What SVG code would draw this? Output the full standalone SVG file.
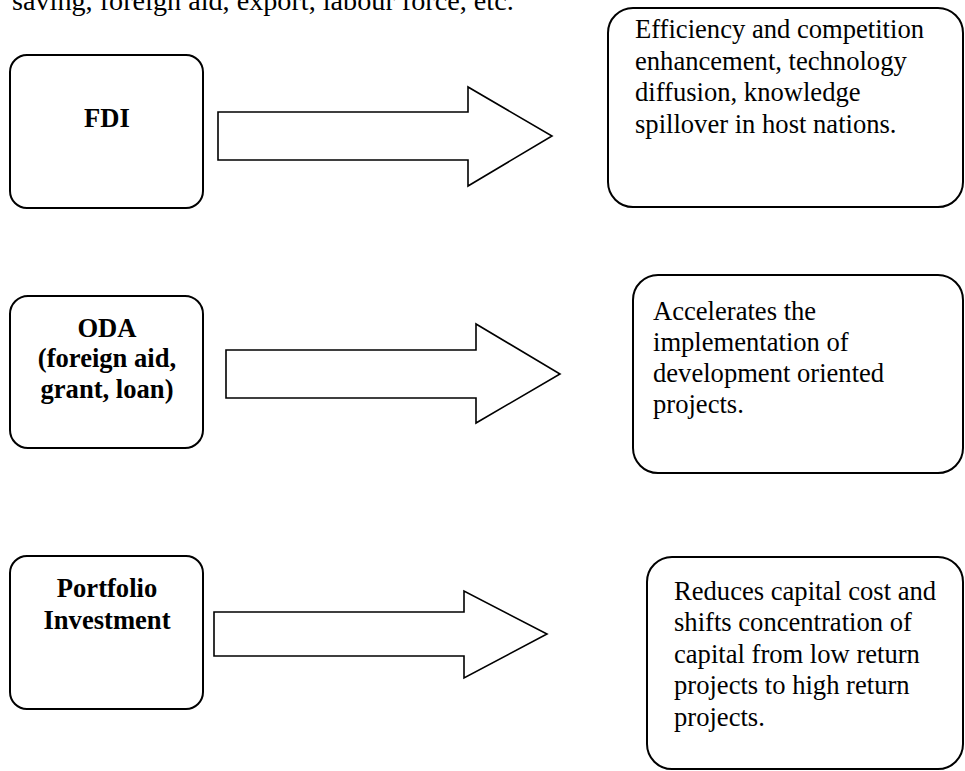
<svg xmlns="http://www.w3.org/2000/svg" width="965" height="771" viewBox="0 0 965 771">
<style>
.box{fill:#fff;stroke:#000;stroke-width:2}
.arr{fill:#fff;stroke:#000;stroke-width:1.6;stroke-linejoin:miter}
.b{font-family:"Liberation Serif","Times New Roman",serif;font-weight:bold;font-size:26.6px;text-anchor:middle;fill:#000}
.t{font-family:"Liberation Serif","Times New Roman",serif;font-size:26.6px;fill:#000}
</style>
<rect width="965" height="771" fill="#fff"/>
<text class="t" x="12" y="10" style="font-size:28.2px">saving, foreign aid, export, labour force, etc.</text>
<g id="fdi">
<rect class="box" x="10" y="55" width="193" height="153" rx="17"/>
<text class="b" x="107" y="127">FDI</text>
</g>
<g id="fdi-effect">
<rect class="box" x="608" y="8" width="355" height="199" rx="25"/>
<text class="t" x="635" y="38">Efficiency and competition</text>
<text class="t" x="635" y="70">enhancement, technology</text>
<text class="t" x="635" y="101">diffusion, knowledge</text>
<text class="t" x="635" y="133">spillover in host nations.</text>
</g>
<g id="oda">
<rect class="box" x="10" y="296" width="193" height="152" rx="18"/>
<text class="b" x="107" y="337">ODA</text>
<text class="b" x="107" y="367">(foreign aid,</text>
<text class="b" x="107" y="398">grant, loan)</text>
</g>
<g id="oda-effect">
<rect class="box" x="633" y="275" width="330" height="198" rx="25"/>
<text class="t" x="653" y="320">Accelerates the</text>
<text class="t" x="653" y="351">implementation of</text>
<text class="t" x="653" y="382">development oriented</text>
<text class="t" x="653" y="413">projects.</text>
</g>
<g id="portfolio">
<rect class="box" x="10" y="556" width="193" height="153" rx="17"/>
<text class="b" x="107" y="597">Portfolio</text>
<text class="b" x="107" y="629">Investment</text>
</g>
<g id="portfolio-effect">
<rect class="box" x="647" y="557" width="316" height="212" rx="25"/>
<text class="t" x="674" y="600">Reduces capital cost and</text>
<text class="t" x="674" y="631">shifts concentration of</text>
<text class="t" x="674" y="663">capital from low return</text>
<text class="t" x="674" y="694">projects to high return</text>
<text class="t" x="674" y="726">projects.</text>
</g>
<g id="connectors">
<polygon class="arr" points="218,112 468,112 468,87 552,136 468,186 468,160 218,160"/>
<polygon class="arr" points="226,350 476,350 476,324 560,374 476,423 476,398 226,398"/>
<polygon class="arr" points="214,612 464,612 464,591 547,634 464,678 464,656 214,656"/>
</g>
</svg>
